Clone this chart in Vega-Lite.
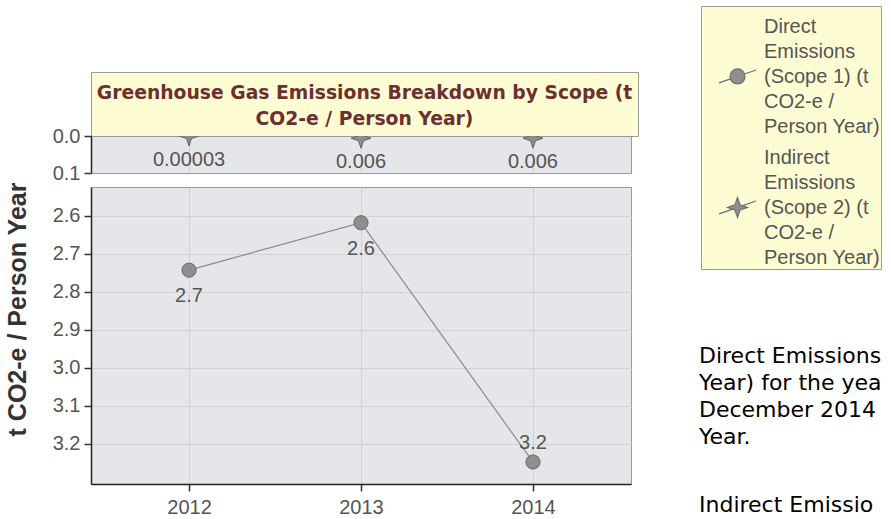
{
  "$schema": "https://vega.github.io/schema/vega-lite/v6.json",
  "padding": {"left": 4, "top": 5, "right": 0, "bottom": 0},
  "datasets": {
    "emissions": [
      {"year": "2012", "series": "Direct Emissions (Scope 1) (t CO2-e / Person Year)", "value": 2.743},
      {"year": "2013", "series": "Direct Emissions (Scope 1) (t CO2-e / Person Year)", "value": 2.618},
      {"year": "2014", "series": "Direct Emissions (Scope 1) (t CO2-e / Person Year)", "value": 3.248},
      {"year": "2012", "series": "Indirect Emissions (Scope 2) (t CO2-e / Person Year)", "value": 0.00003},
      {"year": "2013", "series": "Indirect Emissions (Scope 2) (t CO2-e / Person Year)", "value": 0.006},
      {"year": "2014", "series": "Indirect Emissions (Scope 2) (t CO2-e / Person Year)", "value": 0.006}
    ],
    "heading": [
      {"title": "Greenhouse Gas Emissions Breakdown by Scope (t\nCO2-e / Person Year)"}
    ],
    "notes": [
      {"para": 1, "text": "Direct Emissions (Scope 1) (t CO2-e / Person\nYear) for the year ending 31\nDecember 2014 was 3.2 t CO2-e / Person\nYear."},
      {"para": 2, "text": "Indirect Emissions (Scope 2) (t CO2-e / Person"}
    ]
  },
  "hconcat": [
    {
      "vconcat": [
        {
          "data": {"name": "heading"},
          "width": 547,
          "height": 64,
          "view": {"fill": "#fefcd3", "stroke": "#9b9b9b"},
          "mark": {"type": "text", "font": "DejaVu Sans", "fontWeight": "bold", "fontSize": 18.75, "color": "#6d2f2f", "lineHeight": 26, "lineBreak": "\n", "align": "center", "baseline": "middle", "dy": -11},
          "encoding": {"text": {"field": "title", "type": "nominal"}}
        },
        {
          "vconcat": [
            {
              "data": {"name": "emissions"},
              "width": 540,
              "height": 37,
              "transform": [{"filter": "indexof(datum.series, 'Indirect') == 0"}],
              "encoding": {
                "x": {"field": "year", "type": "ordinal", "scale": {"type": "point", "padding": 0.57},
                  "axis": {"grid": true, "labels": false, "ticks": false, "domain": false, "title": null}},
                "y": {"field": "value", "type": "quantitative",
                  "scale": {"domain": [0, 0.1], "reverse": true, "nice": false, "zero": false},
                  "axis": {"values": [0, 0.1], "format": ".1f", "title": null, "grid": false}}
              },
              "layer": [
                {"mark": {"type": "point", "shape": "M0,-1L0.25,-0.25L1,0L0.25,0.25L0,1L-0.25,0.25L-1,0L-0.25,-0.25Z", "size": 400, "filled": true, "fill": "#8e8e8e", "stroke": "#666666", "strokeWidth": 1, "opacity": 1, "clip": true}},
                {"mark": {"type": "text", "dy": 24, "font": "Liberation Sans", "fontSize": 20, "color": "#555555"},
                  "encoding": {"text": {"field": "value", "type": "quantitative", "format": "~g"}}}
              ]
            },
            {
              "data": {"name": "emissions"},
              "width": 540,
              "height": 297,
              "encoding": {
                "x": {"field": "year", "type": "ordinal", "scale": {"type": "point", "padding": 0.57},
                  "axis": {"grid": true, "labelAngle": 0, "title": null, "labelPadding": 6}},
                "y": {"field": "value", "type": "quantitative",
                  "scale": {"domain": [2.524, 3.306], "reverse": true, "nice": false, "zero": false},
                  "axis": {"values": [2.6, 2.7, 2.8, 2.9, 3.0, 3.1, 3.2], "format": ".1f", "title": "t CO2-e / Person Year", "titleX": -61, "titleY": 122, "titleFontSize": 25, "grid": true}}
              },
              "layer": [
                {"transform": [{"filter": "indexof(datum.series, 'Direct') == 0"}],
                  "mark": {"type": "line", "color": "#8a8a8a", "strokeWidth": 1.2}},
                {"transform": [{"filter": "indexof(datum.series, 'Direct') == 0"}],
                  "mark": {"type": "point", "shape": "circle", "size": 200, "filled": true, "fill": "#8e8e8e", "stroke": "#666666", "strokeWidth": 1, "opacity": 1}},
                {"transform": [{"filter": "indexof(datum.series, 'Direct') == 0 && datum.value < 3"}],
                  "mark": {"type": "text", "dy": 26, "font": "Liberation Sans", "fontSize": 20, "color": "#555555"},
                  "encoding": {"text": {"field": "value", "type": "quantitative", "format": ".1f"}}},
                {"transform": [{"filter": "indexof(datum.series, 'Direct') == 0 && datum.value >= 3"}],
                  "mark": {"type": "text", "dy": -19, "font": "Liberation Sans", "fontSize": 20, "color": "#555555"},
                  "encoding": {"text": {"field": "value", "type": "quantitative", "format": ".1f"}}},
                {"transform": [{"filter": "false"}],
                  "mark": {"type": "point", "filled": true, "fill": "#8e8e8e", "stroke": "#6e6e6e", "strokeWidth": 1.2, "opacity": 1},
                  "encoding": {
                    "shape": {"field": "series", "type": "nominal",
                      "scale": {
                        "domain": ["Direct Emissions (Scope 1) (t CO2-e / Person Year)", "Indirect Emissions (Scope 2) (t CO2-e / Person Year)"],
                        "range": [
                          "M-1,3.05L-0.382,2.834M0.382,2.566L1,2.35M-0.405,2.7A0.405,0.405,0,1,1,0.405,2.7A0.405,0.405,0,1,1,-0.405,2.7Z",
                          "M-1,3.05L-0.25,2.7875M0.25,2.6125L1,2.35M0,2.16L0.14,2.56L0.54,2.7L0.14,2.84L0,3.24L-0.14,2.84L-0.54,2.7L-0.14,2.56Z"
                        ]
                      },
                      "legend": {
                        "title": null, "orient": "none", "legendX": 610, "legendY": -66,
                        "fillColor": "#fefcd3", "strokeColor": "#9b9b9b", "padding": 1,
                        "symbolOffset": 16, "symbolSize": 1369, "symbolStrokeWidth": 1.2, "symbolOpacity": 1,
                        "labelOffset": 7, "labelFont": "Liberation Sans", "labelFontSize": 20, "labelColor": "#555555", "labelLimit": 140, "rowPadding": 1,
                        "labelExpr": "indexof(datum.label, 'Direct') == 0 ? ['Direct', 'Emissions', '(Scope 1) (t', 'CO2-e /', 'Person Year)'] : ['Indirect', 'Emissions', '(Scope 2) (t', 'CO2-e /', 'Person Year)']"
                      }
                    }
                  }}
              ]
            }
          ],
          "spacing": 14,
          "bounds": "flush",
          "resolve": {"scale": {"y": "independent"}}
        }
      ],
      "spacing": 0,
      "bounds": "flush",
      "resolve": {"scale": {"y": "independent"}}
    },
    {
      "data": {"name": "notes"},
      "width": 2,
      "height": 445,
      "view": {"fill": null, "stroke": null},
      "mark": {"type": "text", "align": "left", "baseline": "top", "font": "DejaVu Sans", "fontSize": 22, "color": "#000000", "lineHeight": 27, "lineBreak": "\n", "limit": 191, "ellipsis": " "},
      "encoding": {
        "y": {"field": "para", "type": "ordinal", "scale": {"type": "point", "padding": 1.024, "align": 0.9247}, "axis": null},
        "text": {"field": "text", "type": "nominal"}
      }
    }
  ],
  "spacing": 59,
  "resolve": {"scale": {"y": "independent", "x": "independent"}},
  "config": {
    "font": "Liberation Sans",
    "view": {"stroke": "#999999", "fill": "#e5e6e9"},
    "style": {"guide-label": {"lineHeight": 25}},
    "axis": {
      "labelFont": "Liberation Sans", "labelFontSize": 20, "labelColor": "#555555", "labelPadding": 4,
      "domainColor": "#222222", "domainWidth": 1.5,
      "tickColor": "#333333", "tickSize": 7, "tickWidth": 1.5,
      "gridColor": "#d2d2d5", "gridWidth": 1,
      "titleFont": "Liberation Sans", "titleFontSize": 24, "titleFontWeight": "bold", "titleColor": "#333333"
    }
  }
}
